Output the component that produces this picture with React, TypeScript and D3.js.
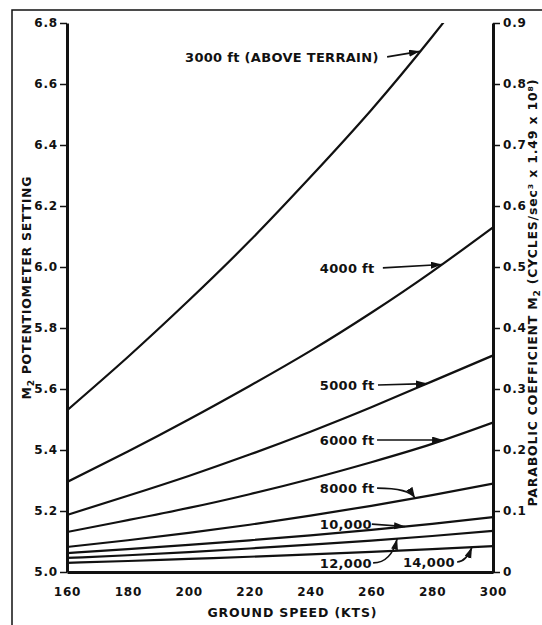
import { useEffect, useRef } from 'react';
import * as d3 from 'd3';

// ground speed (kts) at which every curve was read
const speeds = [160, 180, 200, 220, 240, 260, 280, 300];

// M2 potentiometer setting, one array per height above terrain
const ft3000 = [5.53, 5.705, 5.89, 6.085, 6.295, 6.515, 6.755, 7.01];
const ft4000 = [5.295, 5.395, 5.5, 5.61, 5.725, 5.85, 5.985, 6.13];
const ft5000 = [5.187, 5.25, 5.315, 5.385, 5.46, 5.54, 5.625, 5.71];
const ft6000 = [5.131, 5.17, 5.21, 5.255, 5.305, 5.36, 5.42, 5.49];
const ft8000 = [5.082, 5.104, 5.128, 5.155, 5.185, 5.217, 5.252, 5.29];
const ft10000 = [5.062, 5.075, 5.089, 5.104, 5.12, 5.138, 5.158, 5.18];
const ft12000 = [5.046, 5.055, 5.065, 5.077, 5.09, 5.103, 5.118, 5.135];
const ft14000 = [5.03, 5.036, 5.043, 5.05, 5.058, 5.066, 5.075, 5.085];

const curveNames = ['3000 ft (ABOVE TERRAIN)', '4000 ft', '5000 ft', '6000 ft', '8000 ft', '10,000', '12,000', '14,000'];

const speedTicks = [160, 180, 200, 220, 240, 260, 280, 300];
const settingTicks = [5.0, 5.2, 5.4, 5.6, 5.8, 6.0, 6.2, 6.4, 6.6, 6.8];
const coeffTicks = [0, 0.1, 0.2, 0.3, 0.4, 0.5, 0.6, 0.7, 0.8, 0.9];

const FONT = "'DejaVu Sans', sans-serif";

export default function App() {
  const svgRef = useRef<SVGSVGElement>(null);

  useEffect(() => {
    const svg = d3.select(svgRef.current);
    svg.selectAll('*').remove();

    const x = d3.scaleLinear().domain([160, 300]).range([67, 493]);
    const y = d3.scaleLinear().domain([5.0, 6.8]).range([572, 23]);
    const yRight = d3.scaleLinear().domain([0, 0.9]).range([572, 23]);

    // scanned page frame (top + left edge only)
    svg.append('path').attr('d', 'M12,625V10H542').attr('fill', 'none').attr('stroke', '#111').attr('stroke-width', 1.5);

    svg.append('defs').append('clipPath').attr('id', 'plot')
      .append('rect').attr('x', 67).attr('y', 23).attr('width', 426).attr('height', 549);

    svg.select('defs').append('marker')
      .attr('id', 'head').attr('markerUnits', 'userSpaceOnUse')
      .attr('markerWidth', 12).attr('markerHeight', 8)
      .attr('refX', 11).attr('refY', 3.5).attr('orient', 'auto')
      .append('path').attr('d', 'M0,0L11,3.5L0,7z').attr('fill', '#111');

    // axes
    const styleAxis = (g) => {
      g.select('.domain').attr('stroke', '#111').attr('stroke-width', 3);
      g.selectAll('.tick line').attr('stroke', '#111').attr('stroke-width', 1.5);
      g.selectAll('text')
        .attr('fill', '#111').attr('font-family', FONT)
        .attr('font-weight', 'bold').attr('font-size', 12).attr('letter-spacing', 0.8);
    };

    svg.append('g').attr('transform', `translate(${x(160)},0)`)
      .call(d3.axisLeft(y).tickValues(settingTicks).tickFormat(d3.format('.1f'))
        .tickSize(7).tickSizeOuter(0).tickPadding(2))
      .call(styleAxis);

    svg.append('g').attr('transform', `translate(${x(300)},0)`)
      .call(d3.axisRight(yRight).tickValues(coeffTicks)
        .tickFormat((d) => (d === 0 ? '0' : d3.format('.1f')(d)))
        .tickSize(7).tickSizeOuter(0).tickPadding(3))
      .call(styleAxis);

    svg.append('g').attr('transform', `translate(0,${y(5.0)})`)
      .call(d3.axisBottom(x).tickValues(speedTicks).tickFormat(d3.format('d'))
        .tickSize(0).tickPadding(15))
      .call(styleAxis);

    // curves
    const series = [ft3000, ft4000, ft5000, ft6000, ft8000, ft10000, ft12000, ft14000];
    const curve = d3.line<number>()
      .x((v, i) => x(speeds[i]))
      .y((v) => y(v))
      .curve(d3.curveNatural);

    svg.append('g').attr('clip-path', 'url(#plot)')
      .selectAll('path')
      .data(series)
      .join('path')
      .attr('d', curve)
      .attr('fill', 'none')
      .attr('stroke', '#111')
      .attr('stroke-width', 2.2);

    // curve labels with arrows, placed in data units
    const notes = [
      { lx: 198.8, ly: 6.689, ax: 265.2, tip: 276.0, bend: 0 },
      { lx: 243.1, ly: 5.997, ax: 263.8, tip: 283.2, bend: 0 },
      { lx: 243.1, ly: 5.613, ax: 262.2, tip: 278.3, bend: 0 },
      { lx: 243.1, ly: 5.433, ax: 261.9, tip: 283.6, bend: 0 },
      { lx: 243.1, ly: 5.275, ax: 261.9, tip: 274.4, bend: 1 },
      { lx: 243.1, ly: 5.157, ax: 260.2, tip: 271.1, bend: 0 },
      { lx: 243.1, ly: 5.03, ax: 260.6, tip: 268.5, bend: 1 },
      { lx: 270.4, ly: 5.033, ax: 288.2, tip: 293.1, bend: 1 },
    ];

    notes.forEach((n, i) => {
      const valueAt = d3.scaleLinear(speeds, series[i]);
      const x0 = x(n.ax);
      const y0 = y(n.ly);
      const x1 = x(n.tip);
      const y1 = y(valueAt(n.tip));
      const cx = n.bend ? x1 - 6 : (x0 + x1) / 2;
      const cy = n.bend ? y0 : (y0 + y1) / 2;

      svg.append('text')
        .attr('x', x(n.lx)).attr('y', y0).attr('dy', '0.36em')
        .attr('font-family', FONT).attr('font-weight', 'bold').attr('font-size', 13)
        .attr('letter-spacing', 0.3).attr('fill', '#111')
        .text(curveNames[i]);

      svg.append('path')
        .attr('d', `M${x0},${y0}Q${cx},${cy} ${x1},${y1}`)
        .attr('fill', 'none').attr('stroke', '#111').attr('stroke-width', 1.6)
        .attr('marker-end', 'url(#head)');
    });

    // axis titles
    const title = (sel) => sel.attr('font-family', FONT).attr('font-weight', 'bold')
      .attr('font-size', 12.5).attr('fill', '#111').attr('text-anchor', 'middle')
      .attr('lengthAdjust', 'spacing');

    const left = svg.append('text').call(title)
      .attr('transform', 'translate(26,288) rotate(-90)').attr('dy', '0.36em')
      .attr('textLength', 223);
    left.append('tspan').text('M');
    left.append('tspan').attr('font-size', 9).attr('dy', 3).text('2');
    left.append('tspan').attr('dy', -3).text(' POTENTIOMETER SETTING');

    const right = svg.append('text').call(title)
      .attr('transform', 'translate(532,293) rotate(-90)').attr('dy', '0.36em')
      .attr('textLength', 427);
    right.append('tspan').text('PARABOLIC COEFFICIENT M');
    right.append('tspan').attr('font-size', 9).attr('dy', 3).text('2');
    right.append('tspan').attr('dy', -3).text(' (CYCLES/sec³ x 1.49 x 10⁸)');

    svg.append('text').call(title)
      .attr('x', 292).attr('y', 617).attr('textLength', 169)
      .text('GROUND SPEED (KTS)');
  }, []);

  return (
    <svg
      ref={svgRef}
      width={542}
      height={625}
      style={{ position: 'absolute', left: 0, top: 0, background: '#fff' }}
    />
  );
}
